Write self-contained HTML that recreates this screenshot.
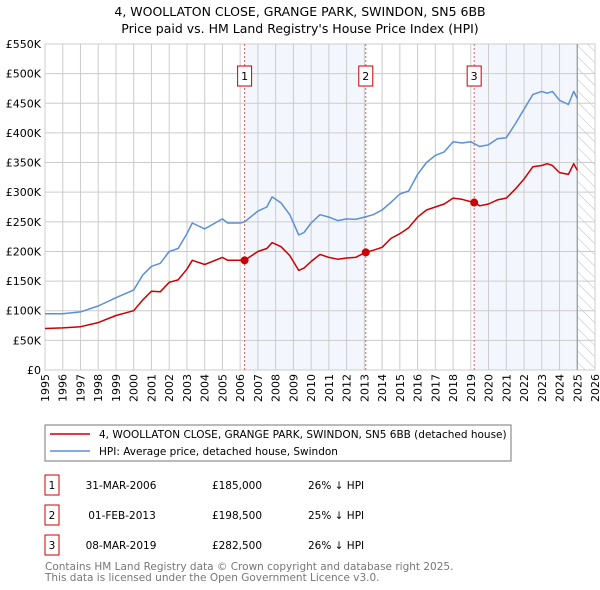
<!DOCTYPE html>
<html><head><meta charset="utf-8"><style>
body{margin:0;background:#fff;}
svg{display:block;font-family:"DejaVu Sans","Liberation Sans",sans-serif;}
</style></head><body>
<svg id="chart" width="600" height="590" viewBox="0 0 600 590">
<text x="300" y="16" text-anchor="middle" font-size="12.5">4, WOOLLATON CLOSE, GRANGE PARK, SWINDON, SN5 6BB</text>
<text x="300" y="33" text-anchor="middle" font-size="12.5">Price paid vs. HM Land Registry's House Price Index (HPI)</text>
<g id="plot"></g>
<g>
<rect x="45" y="425" width="466" height="36" fill="#fff" stroke="#777"/>
<line x1="50" y1="434" x2="90" y2="434" stroke="#cc0000" stroke-width="1.5"/>
<text x="99" y="438" font-size="10.5">4, WOOLLATON CLOSE, GRANGE PARK, SWINDON, SN5 6BB (detached house)</text>
<line x1="50" y1="451" x2="90" y2="451" stroke="#5b8fd6" stroke-width="1.5"/>
<text x="99" y="455" font-size="10.5">HPI: Average price, detached house, Swindon</text>
</g>
<g font-size="10.5">
<rect x="45" y="475" width="14" height="20" fill="none" stroke="#cc0000"/><text x="52" y="489" text-anchor="middle">1</text>
<text x="121" y="489" text-anchor="middle">31-MAR-2006</text><text x="237" y="489" text-anchor="middle">£185,000</text><text x="308" y="489">26% ↓ HPI</text>
<rect x="45" y="505" width="14" height="20" fill="none" stroke="#cc0000"/><text x="52" y="519" text-anchor="middle">2</text>
<text x="122" y="519" text-anchor="middle">01-FEB-2013</text><text x="237" y="519" text-anchor="middle">£198,500</text><text x="308" y="519">25% ↓ HPI</text>
<rect x="45" y="535" width="14" height="20" fill="none" stroke="#cc0000"/><text x="52" y="549" text-anchor="middle">3</text>
<text x="121" y="549" text-anchor="middle">08-MAR-2019</text><text x="237" y="549" text-anchor="middle">£282,500</text><text x="308" y="549">26% ↓ HPI</text>
</g>
<text x="45" y="570" font-size="10.5" fill="#777">Contains HM Land Registry data © Crown copyright and database right 2025.</text>
<text x="45" y="581" font-size="10.5" fill="#777">This data is licensed under the Open Government Licence v3.0.</text>
</svg>
<script>
const hpiYears=[1995,1996,1997,1998,1999,2000,2000.5,2001,2001.5,2002,2002.5,2003,2003.3,2004,2005,2005.3,2006,2006.25,2007,2007.5,2007.8,2008.3,2008.8,2009.3,2009.6,2010,2010.5,2011,2011.5,2012,2012.5,2013,2013.5,2014,2014.5,2015,2015.5,2016,2016.5,2017,2017.5,2018,2018.5,2019,2019.5,2020,2020.5,2021,2021.5,2022,2022.5,2023,2023.3,2023.6,2024,2024.5,2024.8,2025];
const hpiValues=[95,95,98,108,122,135,160,175,180,200,205,230,248,238,255,248,248,250,268,275,292,282,262,228,232,248,262,258,252,255,254,258,262,270,283,297,302,330,350,362,368,385,383,385,377,380,390,392,415,440,465,470,467,470,455,448,470,458];
const redYears=[1995,1996,1997,1998,1999,2000,2000.5,2001,2001.5,2002,2002.5,2003,2003.3,2004,2005,2005.3,2006.25,2007,2007.5,2007.8,2008.3,2008.8,2009.3,2009.6,2010,2010.5,2011,2011.5,2012,2012.5,2013.08,2013.5,2014,2014.5,2015,2015.5,2016,2016.5,2017,2017.5,2018,2018.5,2019.19,2019.5,2020,2020.5,2021,2021.5,2022,2022.5,2023,2023.3,2023.6,2024,2024.5,2024.8,2025];
const redValues=[70,71,73,80,92,100,118,133,132,148,152,170,185,178,190,185,185,200,205,215,208,193,168,172,183,195,190,187,189,190,198.5,202,207,222,230,240,258,270,275,280,290,288,282.5,277,280,287,290,305,322,343,345,348,345,333,330,348,337];
const saleYears=[2006.25,2013.08,2019.19];
const saleValues=[185,198.5,282.5];
const saleLabels=["1","2","3"];
const yTicks=[0,50,100,150,200,250,300,350,400,450,500,550];
const yTickLabels=["£0","£50K","£100K","£150K","£200K","£250K","£300K","£350K","£400K","£450K","£500K","£550K"];
const xTicks=[1995,1996,1997,1998,1999,2000,2001,2002,2003,2004,2005,2006,2007,2008,2009,2010,2011,2012,2013,2014,2015,2016,2017,2018,2019,2020,2021,2022,2023,2024,2025,2026];
const L=45,R=595,T=44,B=370,X0=1995,X1=2026,YMAX=550;
const xs=v=>L+(v-X0)/(X1-X0)*(R-L);
const ys=v=>B-v/YMAX*(B-T);
const NS="http://www.w3.org/2000/svg";
const g=document.getElementById('plot');
function mk(t,a,p){const e=document.createElementNS(NS,t);for(const k in a)e.setAttribute(k,a[k]);(p||g).appendChild(e);return e;}
let s1=mk('rect',{x:xs(saleYears[0]),y:T,width:xs(saleYears[1])-xs(saleYears[0]),height:B-T,fill:'#eef3fc',opacity:0.7});


let s2=mk('rect',{x:xs(saleYears[2]),y:T,width:xs(2025)-xs(saleYears[2]),height:B-T,fill:'#eef3fc',opacity:0.7});


const defs=mk('defs',{});
const pat=mk('pattern',{id:'hatch',width:8,height:8,patternUnits:'userSpaceOnUse',patternTransform:'rotate(-45)'},defs);
mk('line',{x1:0,y1:0,x2:0,y2:8,stroke:'#bbb','stroke-width':1},pat);
let h=mk('rect',{x:xs(2025),y:T,width:R-xs(2025),height:B-T,fill:'url(#hatch)'});


yTicks.forEach((v,i)=>{
 mk('line',{x1:L,x2:R,y1:ys(v),y2:ys(v),stroke:'#ccc','stroke-width':1});
 const t=mk('text',{x:L-4,y:ys(v)+4,'text-anchor':'end','font-size':11});t.textContent=yTickLabels[i];
 
 
});
xTicks.forEach(v=>{
 mk('line',{x1:xs(v),x2:xs(v),y1:T,y2:B,stroke:'#ccc','stroke-width':1});
 const t=mk('text',{x:0,y:0,'text-anchor':'end','font-size':11,transform:`translate(${xs(v)+4},${B+4}) rotate(-90)`});t.textContent=v;
 
 
});
mk('rect',{x:L,y:T,width:R-L,height:B-T,fill:'none',stroke:'#ccc'});
mk('line',{x1:xs(2025),x2:xs(2025),y1:T,y2:B,stroke:'#999','stroke-width':1.2});
saleYears.forEach((v,i)=>{
 const l=mk('line',{x1:xs(v),x2:xs(v),y1:T,y2:B,stroke:'#e06060','stroke-width':1,'stroke-dasharray':'2,2'});
 
 
 const bx=mk('rect',{x:xs(v)-7,y:66,width:14,height:20,fill:'#fff',stroke:'#cc0000'});
 
 
 const t=mk('text',{x:xs(v),y:80,'text-anchor':'middle','font-size':11});t.textContent=saleLabels[i];
});
function line(xa,va,col,name){
 const d=xa.map((x,i)=>(i?'L':'M')+xs(x).toFixed(1)+','+ys(va[i]).toFixed(1)).join('');
 const p=mk('path',{d,fill:'none',stroke:col,'stroke-width':1.5,'stroke-linejoin':'round'});
 
 
}
line(hpiYears,hpiValues,'#5b8fd6','hpi-line');
line(redYears,redValues,'#cc0000','property-price-line');
saleYears.forEach((v,i)=>{
 const c=mk('circle',{cx:xs(v),cy:ys(saleValues[i]),r:4,fill:'#cc0000'});
 
 
});
</script>
</body></html>
